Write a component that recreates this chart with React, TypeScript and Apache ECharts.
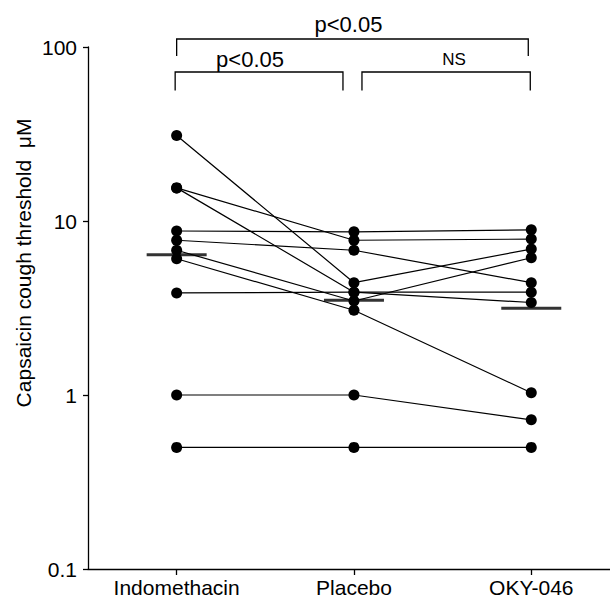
import React, { useEffect, useRef } from 'react';
import * as echarts from 'echarts';

const categories = ['Indomethacin', 'Placebo', 'OKY-046'];

// one row per subject: [Indomethacin, Placebo, OKY-046]
const subject01 = [31, 4.42, 6.9];
const subject02 = [15.5, 7.75, 7.87];
const subject03 = [15.5, 3.9, 3.4];
const subject04 = [8.76, 8.66, 8.9];
const subject05 = [7.75, 6.79, 4.42];
const subject06 = [6.79, 3.47, 6.15];
const subject07 = [6.07, 3.07, 1.03];
const subject08 = [3.86, 3.9, 3.9];
const subject09 = [1.0, 1.0, 0.72];
const subject10 = [0.5, 0.5, 0.5];
const subjects = [subject01, subject02, subject03, subject04, subject05, subject06, subject07, subject08, subject09, subject10];

const medians = [6.4, 3.5, 3.15];

const yMin = 0.1;
const yMax = 100;
const xMin = -0.5;
const xMax = 2.444;

const bracketLabels = ['p<0.05', 'p<0.05', 'NS'];
const bracketFrom = [0, 0, 1];
const bracketTo = [2, 1, 2];

const yTitle = 'Capsaicin cough threshold  \u03bcM';

const FONT = "'Liberation Sans', Arial, Helvetica, sans-serif";

export default function App() {
  const ref = useRef<HTMLDivElement>(null);
  useEffect(() => {
    if (!ref.current) return;
    const chart = echarts.init(ref.current, undefined, { renderer: 'svg' });
    const catIdx = categories.map((_, i) => i);
    const lineSeries = subjects.map((s, i) => ({
      type: 'line',
      name: 'S' + (i + 1),
      data: s.map((v, j) => [j, v]),
      symbol: 'circle',
      symbolSize: 11,
      itemStyle: { color: '#000' },
      lineStyle: { color: '#000', width: 1.2 },
      z: 2,
    }));
    chart.setOption({
      animation: false,
      grid: { left: 88, right: 0, top: 47, bottom: 30, outerBoundsMode: 'none', containLabel: false },
      xAxis: {
        type: 'value',
        min: xMin,
        max: xMax,
        axisLine: { show: true, onZero: false, lineStyle: { color: '#000', width: 1.3 } },
        axisTick: { show: true, customValues: catIdx, length: 6, lineStyle: { color: '#000', width: 1.3 } },
        axisLabel: {
          color: '#000',
          fontFamily: FONT,
          fontSize: 21,
          margin: 8,
          customValues: catIdx,
          showMinLabel: true,
          showMaxLabel: true,
          formatter: (v: number) => categories[Math.round(v)] ?? '',
        },
        splitLine: { show: false },
      },
      yAxis: {
        type: 'log',
        logBase: 10,
        min: yMin,
        max: yMax,
        axisLine: { show: true, onZero: false, lineStyle: { color: '#000', width: 1.3 } },
        axisTick: { show: true, length: 5, lineStyle: { color: '#000', width: 1.3 } },
        minorTick: { show: false },
        splitLine: { show: false },
        axisLabel: {
          color: '#000',
          fontFamily: FONT,
          fontSize: 21,
          margin: 11,
          formatter: (v: number) => String(+Number(v).toPrecision(3)),
        },
      },
      series: [
        ...lineSeries,
        {
          type: 'scatter',
          name: 'median',
          data: medians.map((v, j) => [j, v]),
          symbol: 'rect',
          symbolSize: [60, 3],
          itemStyle: { color: '#000' },
          z: 3,
        },
      ],
    });

    const xPx = (i: number) => chart.convertToPixel({ xAxisIndex: 0 }, i) as number;
    const topPx = chart.convertToPixel({ yAxisIndex: 0 }, yMax) as number;
    const lineStyle = { stroke: '#000', lineWidth: 1.3, fill: 'none' };
    const graphics: any[] = [];
    bracketLabels.forEach((label, k) => {
      const level = bracketFrom[k] === 0 && bracketTo[k] === 2 ? 0 : 1;
      let x1 = xPx(bracketFrom[k]);
      let x2 = xPx(bracketTo[k]);
      if (level === 1) {
        if (bracketTo[k] === 1) { x1 -= 1.5; x2 -= 11; } else { x1 += 8; x2 -= 1; }
      } else {
        x2 -= 3;
      }
      const yh = level === 0 ? topPx - 8 : topPx + 25;
      const yb = level === 0 ? topPx + 9 : topPx + 43.5;
      graphics.push({
        type: 'polyline',
        shape: { points: [[x1, yb], [x1, yh], [x2, yh], [x2, yb]] },
        style: lineStyle,
      });
      const isNS = label === 'NS';
      const cx = (x1 + x2) / 2 + (level === 0 ? -4 : isNS ? 8 : -9);
      graphics.push({
        type: 'text',
        x: cx,
        y: level === 0 ? topPx - 23 : topPx + 12.5,
        style: {
          text: label,
          fontFamily: FONT,
          fontSize: isNS ? 17 : 22,
          fill: '#000',
          align: 'center',
          verticalAlign: 'middle',
        },
      });
    });
    graphics.push({
      type: 'text',
      x: 23,
      y: 263,
      rotation: Math.PI / 2,
      style: {
        text: yTitle,
        fontFamily: FONT,
        fontSize: 21,
        fill: '#000',
        align: 'center',
        verticalAlign: 'middle',
      },
    });
    chart.setOption({ graphic: graphics });
    return () => chart.dispose();
  }, []);
  return (
    <div
      ref={ref}
      style={{ position: 'absolute', left: 0, top: 0, width: 610, height: 599 }}
    />
  );
}
